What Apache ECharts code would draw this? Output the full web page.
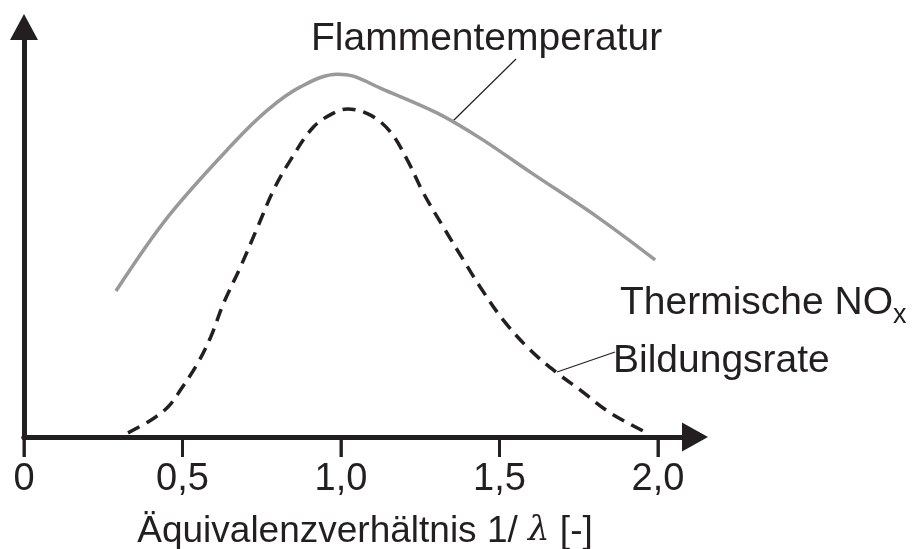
<!DOCTYPE html>
<html>
<head>
<meta charset="utf-8">
<script src="https://cdn.jsdelivr.net/npm/echarts@6/dist/echarts.min.js"></script>
<style>
  html, body { margin: 0; padding: 0; background: #fff; }
  #chart { width: 914px; height: 549px; }
</style>
</head>
<body>
<div id="chart"></div>
<script>
// values (x = 1/lambda, y = relative units 0..100)
const flameX = [0.29, 0.454, 0.661, 0.769, 0.872, 0.989, 1.039, 1.124, 1.304, 1.439, 1.597, 1.808, 1.991];
const flameY = [35.6, 53.7, 71.7, 79.8, 85.4, 88.5, 88.0, 85.1, 79.0, 72.9, 64.6, 53.7, 43.2];

const noxX = [0.328, 0.4, 0.454, 0.494, 0.548, 0.589, 0.630, 0.683, 0.737, 0.787, 0.841, 0.913, 0.976, 1.020,
  1.093, 1.156, 1.209, 1.260, 1.323, 1.386, 1.439, 1.512, 1.597, 1.682, 1.754, 1.849, 1.965];
const noxY = [1.0, 4.1, 7.3, 11.5, 18.0, 24.4, 32.7, 41.5, 51.2, 60.2, 67.6, 75.6, 79.0, 80.0,
  78.5, 74.4, 67.6, 59.5, 51.2, 43.2, 36.6, 28.5, 21.2, 15.6, 11.5, 5.9, 1.0];

const tickValues = [0, 0.5, 1.0, 1.5, 2.0];
const tickLabels = ['0', '0,5', '1,0', '1,5', '2,0'];

const INK = '#231f20';
const FONT = '"Liberation Sans", Arial, sans-serif';

const chart = echarts.init(document.getElementById('chart'), null, { renderer: 'canvas' });

const labels = [
  {
    id: 'flameLabel', type: 'text', left: 311, top: 20,
    style: { text: 'Flammentemperatur', fill: INK, font: '39px ' + FONT }
  },
  {
    id: 'flameLeader', type: 'line', shape: { x1: 453, y1: 121, x2: 516, y2: 59 },
    style: { stroke: INK, lineWidth: 1.2 }
  },
  {
    id: 'noxLabel1', type: 'text', left: 620, top: 284,
    style: {
      text: 'Thermische NO{s|x}', fill: INK, font: '39px ' + FONT,
      rich: { s: { fontSize: 27, fontFamily: FONT, fill: INK, padding: [24, 0, 0, 0] } }
    }
  },
  {
    id: 'noxLabel2', type: 'text', left: 613, top: 342,
    style: { text: 'Bildungsrate', fill: INK, font: '39px ' + FONT }
  },
  {
    id: 'noxLeader', type: 'line', shape: { x1: 557, y1: 372, x2: 615, y2: 352 },
    style: { stroke: INK, lineWidth: 1.2 }
  }
];

// grid 0 holds the data (0..2,0), grid 1 only draws the longer arrow axis
const option = {
  animation: false,
  grid: [
    { left: 24, right: 914 - 658, top: 27, bottom: 549 - 437, outerBoundsMode: 'none' },
    { left: 24, right: 914 - 695, top: 27, bottom: 549 - 437, outerBoundsMode: 'none' }
  ],
  xAxis: [
    {
      type: 'value',
      gridIndex: 0,
      min: tickValues[0],
      max: tickValues[tickValues.length - 1],
      interval: 0.5,
      splitLine: { show: false },
      axisLine: { show: true, onZero: false, lineStyle: { color: INK, width: 5 } },
      axisTick: {
        show: true,
        length: 20,
        lineStyle: { color: INK, width: 2.5 }
      },
      axisLabel: {
        formatter: v => tickLabels[tickValues.indexOf(v)] ?? '',
        color: INK,
        fontFamily: FONT,
        fontSize: 38,
        margin: 24
      },
      name: 'Äquivalenzverhältnis 1/ {l|λ} [-]',
      nameLocation: 'middle',
      nameGap: 76,
      nameTextStyle: {
        color: INK,
        fontFamily: FONT,
        fontSize: 37,
        padding: [0, 0, 0, 48],
        rich: {
          l: { fontFamily: '"DejaVu Serif", serif', fontStyle: 'italic', fontSize: 34, color: INK }
        }
      }
    },
    {
      type: 'value',
      gridIndex: 1,
      min: 0,
      max: 1,
      splitLine: { show: false },
      axisLabel: { show: false },
      axisTick: { show: false },
      axisLine: {
        onZero: false,
        symbol: ['none', 'triangle'],
        symbolSize: [29, 26],
        lineStyle: { color: INK, width: 5 }
      }
    }
  ],
  yAxis: [
    {
      type: 'value',
      gridIndex: 0,
      min: 0,
      max: 100,
      splitLine: { show: false },
      axisLabel: { show: false },
      axisTick: { show: false },
      axisLine: {
        show: true,
        symbol: ['none', 'triangle'],
        symbolSize: [28, 26],
        lineStyle: { color: INK, width: 5 }
      }
    },
    {
      type: 'value',
      gridIndex: 1,
      show: false
    }
  ],
  series: [
    {
      name: 'Flammentemperatur',
      type: 'line',
      xAxisIndex: 0,
      yAxisIndex: 0,
      smooth: 0.35,
      symbol: 'none',
      data: flameX.map((x, i) => [x, flameY[i]]),
      lineStyle: { color: '#999999', width: 3.5 }
    },
    {
      name: 'Thermische NOx Bildungsrate',
      type: 'line',
      xAxisIndex: 0,
      yAxisIndex: 0,
      smooth: 0.35,
      symbol: 'none',
      data: noxX.map((x, i) => [x, noxY[i]]),
      lineStyle: { color: INK, width: 3.5, type: [13, 8] }
    }
  ],
  graphic: labels
};

chart.setOption(option);

// extra tick marks placed with the axis scale, in case the axis ticks are not drawn
const axisY = chart.convertToPixel({ yAxisIndex: 0 }, 0);
const ticks = tickValues.map((v, i) => {
  const x = chart.convertToPixel({ xAxisIndex: 0 }, v);
  return {
    id: 'tick' + i,
    type: 'rect',
    z: 100,
    shape: { x: x - 1.5, y: axisY, width: 3, height: 20 },
    style: { fill: INK }
  };
});
chart.setOption({ graphic: labels.concat(ticks) });
</script>
</body>
</html>
